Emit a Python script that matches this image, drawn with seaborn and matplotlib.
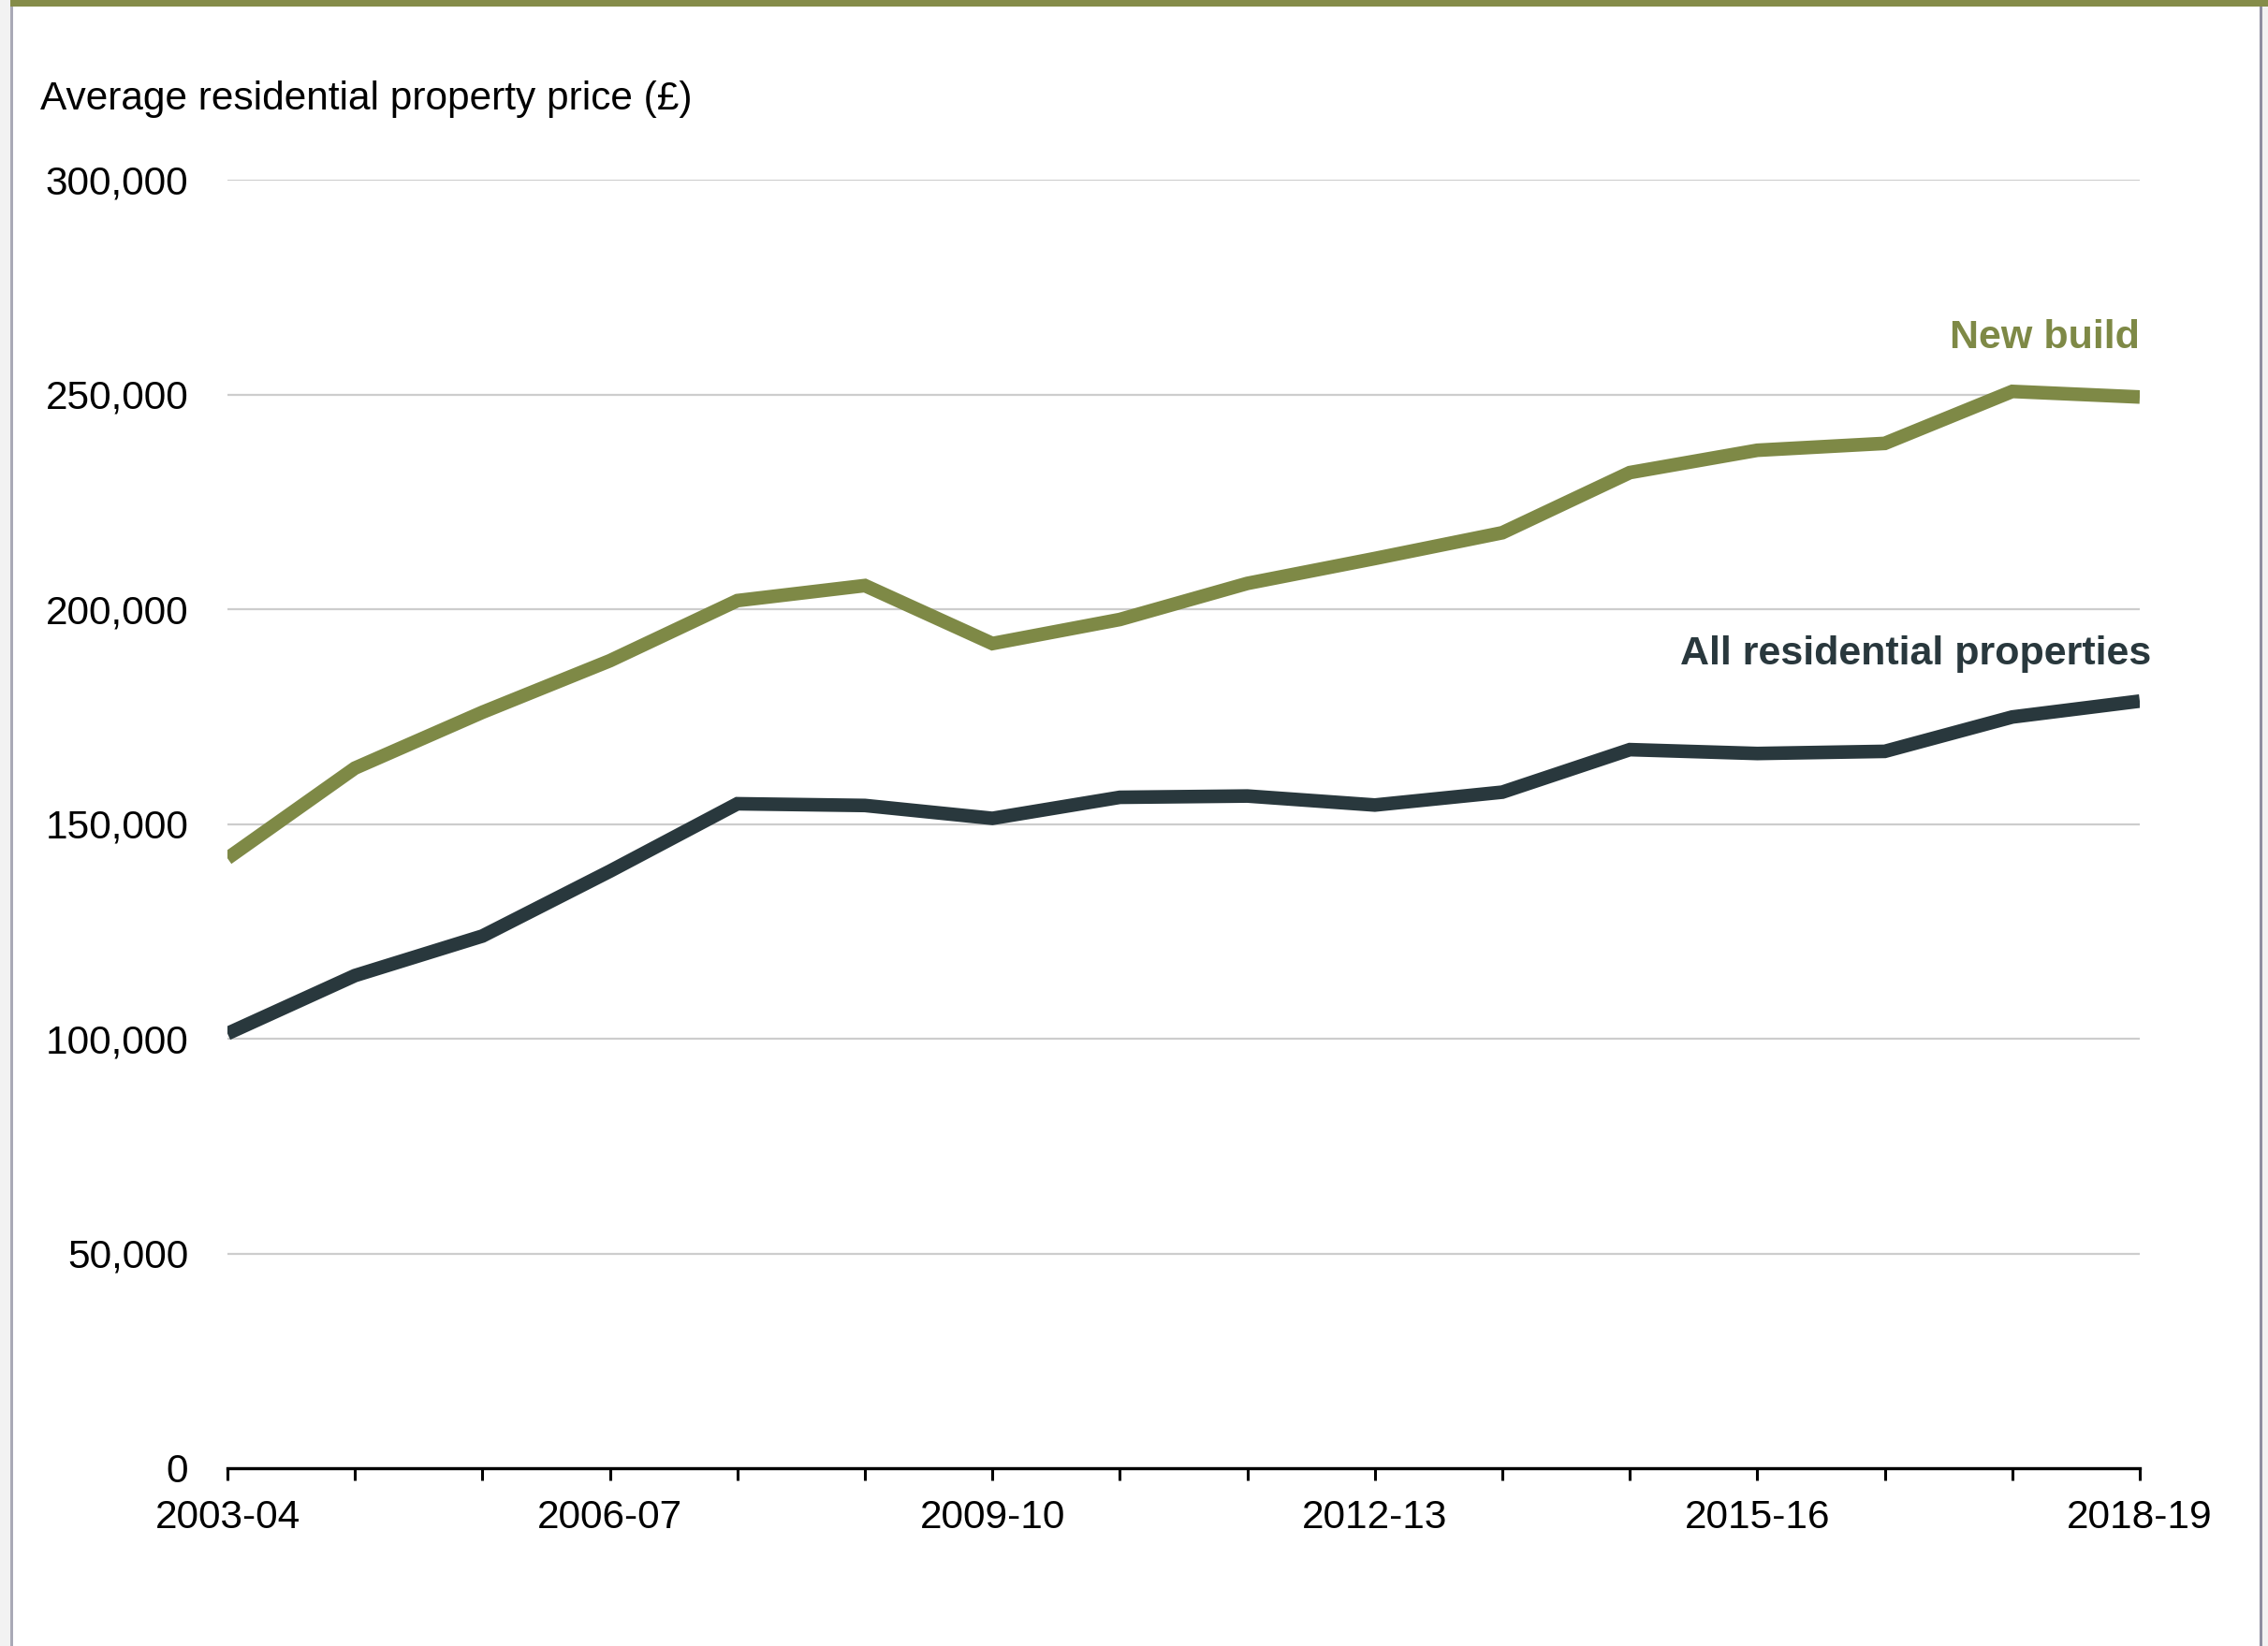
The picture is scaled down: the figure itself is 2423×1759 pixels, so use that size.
import matplotlib
matplotlib.use("Agg")
import matplotlib.pyplot as plt
import pandas as pd
import seaborn as sns
from matplotlib.patches import Rectangle

# Financial years on the x axis
years = ["2003-04", "2004-05", "2005-06", "2006-07", "2007-08", "2008-09",
         "2009-10", "2010-11", "2011-12", "2012-13", "2013-14", "2014-15",
         "2015-16", "2016-17", "2017-18", "2018-19"]

# Average prices (£)
new_build = [142000, 163000, 176000, 188000, 202000, 205500, 192000, 197600,
             206000, 211800, 217800, 231800, 237000, 238600, 250700, 249400]
all_residential = [101200, 114700, 123900, 139000, 154700, 154300, 151300, 156200,
                   156500, 154400, 157400, 167300, 166400, 166900, 174900, 178600]

labelled_years = ["2003-04", "2006-07", "2009-10", "2012-13", "2015-16", "2018-19"]
series_names = ["New build", "All residential properties"]
series_colors = ["#7e8946", "#29383d"]
y_ticks = [0, 50000, 100000, 150000, 200000, 250000, 300000]
y_title = "Average residential property price (£)"

sns.set_theme(style="white")
plt.rcParams["font.family"] = ["Liberation Sans", "DejaVu Sans"]

df = pd.DataFrame({
    "pos": list(range(len(years))) * 2,
    "price": new_build + all_residential,
    "series": [series_names[0]] * len(years) + [series_names[1]] * len(years),
})

W, H = 2423, 1759
fig = plt.figure(figsize=(W / 100, H / 100), dpi=100)
fig.patch.set_facecolor("white")

ax_left, ax_right, ax_bottom, ax_top = 243, 2286, 1569, 192
ax = fig.add_axes([ax_left / W, 1 - ax_bottom / H,
                   (ax_right - ax_left) / W, (ax_bottom - ax_top) / H])

sns.lineplot(data=df, x="pos", y="price", hue="series",
             palette=dict(zip(series_names, series_colors)),
             linewidth=10.5, legend=False, sort=False, ax=ax)
for ln in ax.lines:
    ln.set_solid_capstyle("butt")
    ln.set_solid_joinstyle("miter")

ax.set_xlim(0, len(years) - 1)
ax.set_ylim(0, 300000)
ax.set_xlabel("")
ax.set_ylabel("")

ax.set_xticks(range(len(years)))
ax.set_xticklabels([y if y in labelled_years else "" for y in years])
ax.set_yticks(y_ticks)
ax.set_yticklabels([f"{v:,}" for v in y_ticks])

ax.tick_params(axis="x", direction="out", length=9, width=2.2, color="black",
               pad=15, labelsize=30.5, labelcolor="black", bottom=True)
ax.tick_params(axis="y", length=0, pad=30, labelsize=30.5, labelcolor="black")

ax.yaxis.grid(True, color="#cdcdcd", linewidth=1.6)
ax.xaxis.grid(False)
ax.set_axisbelow(True)
for side in ["top", "right", "left"]:
    ax.spines[side].set_visible(False)
ax.spines["bottom"].set_color("black")
ax.spines["bottom"].set_linewidth(2.4)

# Series labels
ax.annotate(series_names[0], xy=(len(years) - 1, 260800), xytext=(0, 0),
            textcoords="offset points", ha="right", va="baseline",
            fontsize=31, fontweight="bold", color=series_colors[0])
ax.annotate(series_names[1], xy=(len(years) - 1, 187100), xytext=(8.6, 0),
            textcoords="offset points", ha="right", va="baseline",
            fontsize=31, fontweight="bold", color=series_colors[1])

# Axis title above the value labels
fig.text(43 / W, 1 - 117 / H, y_title, ha="left", va="baseline",
         fontsize=30.5, color="black")

# Frame: olive top rule and thin side borders
def px_rect(x0, y0, x1, y1, color):
    fig.patches.append(Rectangle((x0 / W, 1 - y1 / H), (x1 - x0) / W, (y1 - y0) / H,
                                 transform=fig.transFigure, facecolor=color,
                                 edgecolor="none", zorder=10))

px_rect(0, 0, 11, H, "#f2f2f2")
px_rect(11, 0, 14, H, "#a9a9b6")
px_rect(2414, 0, 2417, H, "#8e8ea0")
px_rect(2417, 0, W, H, "#f2f2f2")
px_rect(11, 0, W, 7, "#858c49")

fig.savefig("out.png", dpi=100, facecolor="white")
